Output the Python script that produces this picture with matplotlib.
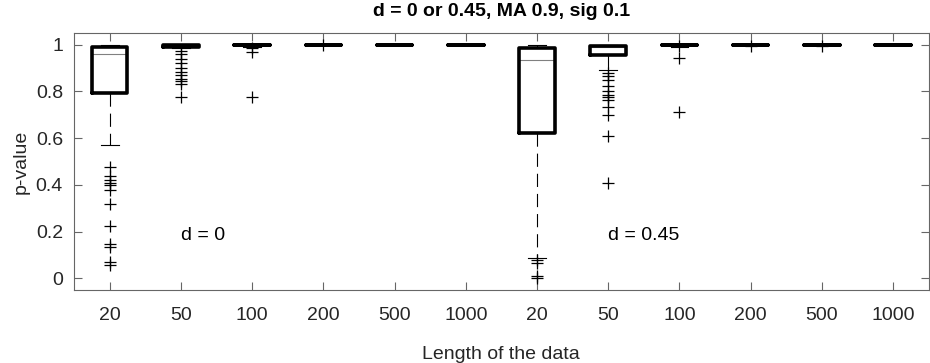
import numpy as np
import matplotlib.pyplot as plt

plt.rcParams["font.family"] = ["Liberation Sans", "DejaVu Sans"]
plt.rcParams["lines.scale_dashes"] = False

# box statistics (d = 0 groups, then d = 0.45 groups)
lengths = ["20", "50", "100", "200", "500", "1000"] * 2
q1 = [0.793, 0.992, 0.997, 0.998, 0.998, 0.998, 0.621, 0.955, 0.997, 0.998, 0.998, 0.998]
med = [0.961, 0.999, 1.0, 1.0, 1.0, 1.0, 0.936, 0.99, 1.0, 1.0, 1.0, 1.0]
q3 = [0.99, 1.0, 1.0, 1.0, 1.0, 1.0, 0.986, 0.995, 1.0, 1.0, 1.0, 1.0]
whislo = [0.571, 0.985, 0.99, 0.998, 0.998, 0.998, 0.089, 0.893, 0.99, 0.998, 0.998, 0.998]
whishi = [1.0] * 12
fliers = [
    [0.478, 0.44, 0.42, 0.41, 0.40, 0.378, 0.32, 0.224, 0.149, 0.135, 0.07, 0.056],
    [0.975, 0.96, 0.94, 0.92, 0.90, 0.885, 0.87, 0.855, 0.845, 0.83, 0.775],
    [0.985, 0.97, 0.775],
    [0.997],
    [],
    [],
    [0.077, 0.066, 0.01, 0.0],
    [0.881, 0.867, 0.85, 0.825, 0.80, 0.785, 0.775, 0.765, 0.735, 0.70, 0.609, 0.409],
    [0.995, 0.943, 0.714],
    [0.996],
    [0.996],
    [],
]
labels_txt = ["d = 0", "d = 0.45"]
labels_x = [2.0, 8.0]
labels_y = [0.185, 0.185]

stats = []
for i in range(len(lengths)):
    stats.append(dict(q1=q1[i], med=med[i], q3=q3[i], whislo=whislo[i],
                      whishi=whishi[i], fliers=fliers[i], label=lengths[i]))

fig = plt.figure(figsize=(9.3, 3.63), dpi=100)
ax = fig.add_axes([0.0796, 0.201, 0.919, 0.708])

positions = np.arange(1, len(lengths) + 1)
ax.bxp(
    stats,
    positions=positions,
    widths=0.5,
    capwidths=0.25,
    boxprops=dict(color="black", linewidth=2.6, solid_joinstyle="round",
                  solid_capstyle="round", zorder=3),
    medianprops=dict(color="#808080", linewidth=0.8, zorder=2.5),
    whiskerprops=dict(color="black", linewidth=0.8, linestyle=(0, (9.5, 5))),
    capprops=dict(color="black", linewidth=0.8),
    flierprops=dict(marker="+", markersize=8, markeredgecolor="black",
                    markeredgewidth=0.9, zorder=3.5),
)

for t, x, y in zip(labels_txt, labels_x, labels_y):
    ax.text(x, y, t, fontsize=14, ha="left", va="center", color="black")

ax.set_xlim(0.5, len(lengths) + 0.5)
ax.set_ylim(-0.05, 1.05)
ax.set_yticks([0, 0.2, 0.4, 0.6, 0.8, 1.0])
ax.set_yticklabels(["0", "0.2", "0.4", "0.6", "0.8", "1"])
ax.set_xticks(positions)
ax.set_xticklabels(lengths)

ax.tick_params(axis="both", which="both", direction="in", length=6, width=0.8,
               top=True, right=True, color="#666666", labelsize=14,
               labelcolor="#262626")
ax.tick_params(axis="x", pad=12)
ax.tick_params(axis="y", pad=8)
for spine in ax.spines.values():
    spine.set_linewidth(0.8)
    spine.set_color("#666666")

ax.set_title("d = 0 or 0.45, MA 0.9, sig 0.1", fontsize=14, fontweight="bold", pad=12)
ax.set_xlabel("Length of the data", fontsize=14, color="#262626", labelpad=16)
ax.set_ylabel("p-value", fontsize=14, color="#262626", labelpad=4)

fig.savefig("out.png", dpi=100)
